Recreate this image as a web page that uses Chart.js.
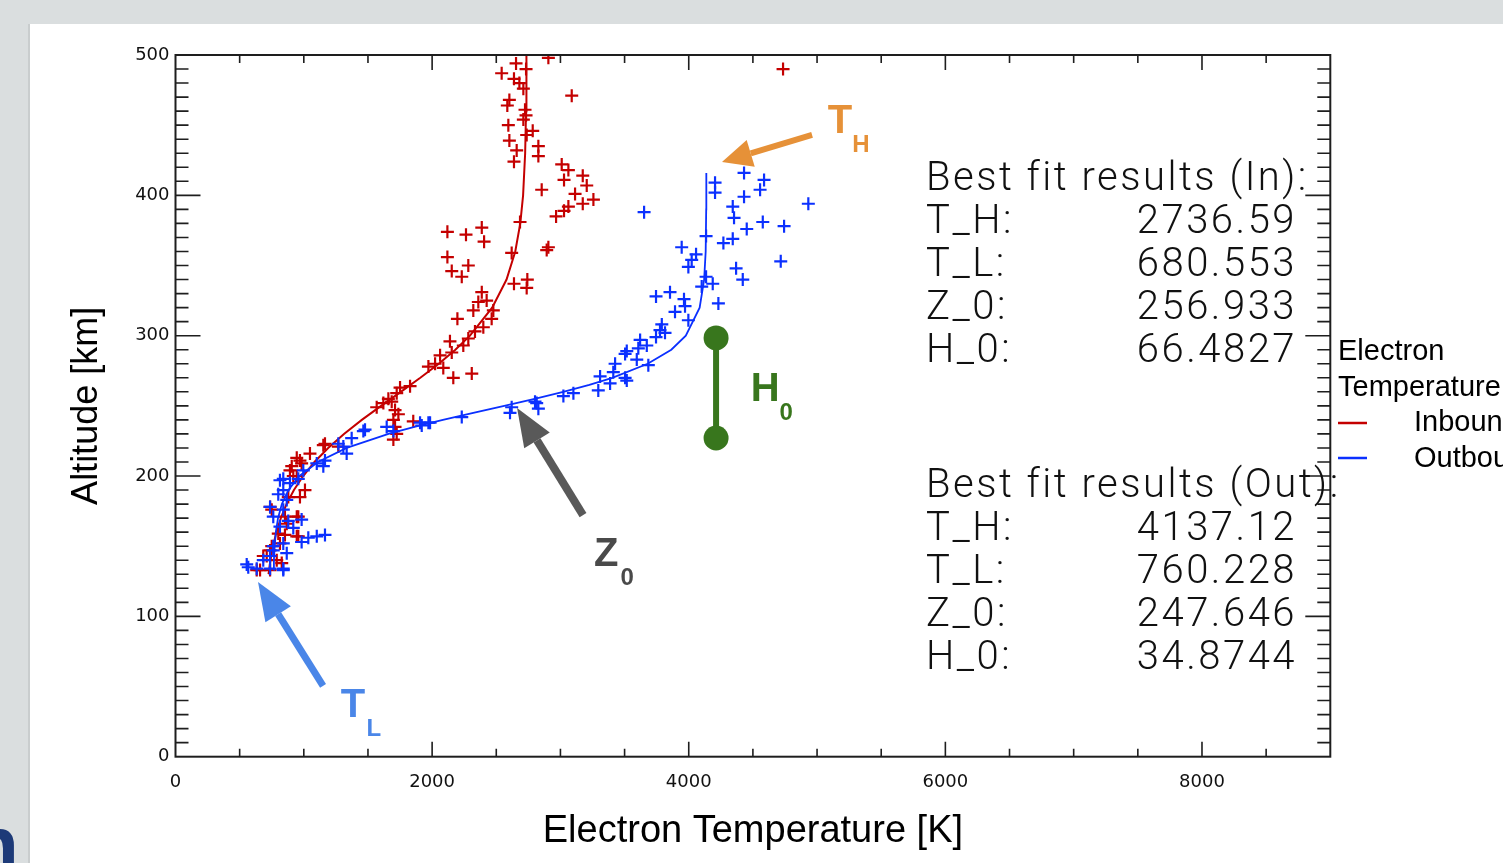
<!DOCTYPE html>
<html>
<head>
<meta charset="utf-8">
<script src="https://cdn.jsdelivr.net/npm/chart.js@4.4.1/dist/chart.umd.min.js"></script>
<style>
  html, body { margin: 0; padding: 0; background: #dadedf; overflow: hidden; }
  canvas { display: block; }
</style>
</head>
<body>
<canvas id="profile" width="1503" height="863"></canvas>
<script>
// inbound pass (red crosses): electron temperature [K] and altitude [km]
const inboundTemp = [
  2906, 2654, 2732, 2542, 2638, 2680, 2711, 3088, 2602, 2586, 2724, 2732, 2711, 2594, 2784, 2737, 2602,
  2828, 2659, 2828, 2638, 3010, 3062, 3174, 3028, 3205, 2854, 3114, 3257, 3174, 3062, 3028, 2966, 2685,
  2387, 2119, 2264, 2405, 2906, 2893, 2620, 2119, 2282, 2153, 2231, 2742, 2638, 2737, 2387, 4735,
  2360, 2425, 2321, 2477, 2464, 2197, 2399, 2334, 2282, 2139, 2243, 2153, 2062, 2023, 1971, 2087, 2309,
  2165, 1828, 1750, 1724, 1659, 1685, 1620, 1568, 1711, 1737, 1698, 1853, 1711, 1724, 1698,
  1269, 1165, 1152, 1048, 970, 945, 983, 906, 892, 945, 918, 1009, 970, 879, 750, 737, 957, 853, 945,
  867, 801, 853, 945, 957, 814, 750, 737, 711, 684, 789, 828, 659, 737, 633
];
const inboundAlt = [
  498, 494, 490, 487, 483, 480, 476, 471, 468, 464, 461, 457, 454, 450, 446, 443, 439,
  435, 432, 428, 424, 422, 418, 414, 411, 407, 404, 401, 397, 394, 392, 389, 385, 381,
  377, 374, 372, 367, 363, 361, 359, 356, 350, 346, 342, 340, 337, 334, 331, 490,
  324, 325, 318, 318, 312, 312, 306, 303, 298, 296, 293, 288, 286, 280, 278, 277, 273,
  270, 264, 263, 259, 255, 253, 252, 249, 247, 244, 240, 239, 235, 230, 226,
  221, 223, 222, 216, 211, 213, 209, 207, 204, 200, 200, 190, 185, 185, 176, 178, 171, 171, 171,
  166, 159, 158, 157, 157, 152, 150, 147, 143, 143, 140, 138, 133, 133, 133
];

// outbound pass (blue crosses)
const outboundTemp = [
  3652, 4205, 4205, 4431, 4587, 4556, 4431, 4343, 4353, 4932, 4577, 4743, 4452, 4135, 4343, 4270,
  3945, 4057, 4023, 3997, 4717, 4369, 4421, 4135, 4187, 4101, 4231, 3745, 3854, 3963, 3971, 3893,
  3997, 3790, 3776, 3815, 3745, 3621, 3673, 3607, 3517, 3504, 3595, 3685, 3426, 3412, 3309, 3504,
  3517, 3387, 3295, 3101, 3023, 2802, 2815, 2620, 2828, 2607, 2231, 1984, 1906, 1971, 1919, 1646,
  1698, 1477, 1464, 1373, 1269, 1308, 1334, 1165, 1101, 1152, 996, 957, 840, 814, 892, 840, 801,
  867, 737, 840, 762, 983, 879, 814, 918, 1165, 1101, 1035, 983, 840, 762, 762, 867, 737, 684,
  555, 567, 633, 737, 840, 840
];
const outboundAlt = [
  388, 409, 402, 416, 411, 404, 399, 392, 384, 394, 381, 378, 376, 371, 369, 366,
  363, 358, 354, 349, 353, 348, 340, 342, 337, 335, 323, 328, 331, 326, 321, 317,
  311, 308, 304, 302, 299, 297, 293, 291, 289, 287, 283, 279, 280, 274, 271, 270,
  268, 266, 261, 259, 257, 253, 252, 249, 248, 245, 242, 238, 238, 238, 236, 235,
  232, 233, 232, 227, 223, 221, 216, 211, 209, 207, 204, 198, 198, 197, 195, 190, 187,
  183, 178, 176, 171, 169, 168, 164, 163, 158, 157, 156, 153, 152, 150, 147, 145, 143, 140,
  137, 135, 134, 134, 134, 133
];

// fitted profiles
const inboundFitAlt  = [130, 140, 150, 160, 170, 180, 190, 200, 210, 220, 230, 240, 250, 260, 270, 280, 290, 300, 320, 340, 360, 380, 400, 430, 460, 500];
const inboundFitTemp = [725, 740, 760, 786, 821, 865, 923, 995, 1083, 1190, 1313, 1452, 1602, 1756, 1908, 2052, 2181, 2295, 2468, 2580, 2648, 2687, 2709, 2725, 2732, 2735];
const outboundFitAlt  = [133, 140, 150, 160, 170, 180, 190, 200, 210, 220, 230, 235, 240, 245, 250, 255, 260, 265, 270, 280, 290, 300, 320, 340, 360, 390, 416];
const outboundFitTemp = [765, 767, 773, 782, 799, 829, 880, 966, 1110, 1334, 1660, 1862, 2084, 2321, 2562, 2799, 3022, 3225, 3404, 3680, 3864, 3977, 4085, 4120, 4132, 4136, 4137];

// axis labels
const tempTicks = [0, 2000, 4000, 6000, 8000];
const altTicks = [0, 100, 200, 300, 400, 500];

// printed fit results
const fitNames = ['T_H:', 'T_L:', 'Z_0:', 'H_0:'];
const inboundFitText = ['2736.59', '680.553', '256.933', '66.4827'];
const outboundFitText = ['4137.12', '760.228', '247.646', '34.8744'];

const RED = '#c40000';
const BLUE = '#0b30ff';

const toPts = (xs, ys) => xs.map((v, i) => ({ x: v, y: ys[i] }));

const pageBg = {
  id: 'pageBg',
  beforeDraw(chart) {
    const { ctx, width, height } = chart;
    ctx.save();
    ctx.fillStyle = '#dadedf';
    ctx.fillRect(0, 0, width, height);
    ctx.fillStyle = '#c9cdce';
    ctx.fillRect(28, 24, 2, height);
    ctx.fillStyle = '#ffffff';
    ctx.fillRect(30, 24, width - 30, height - 24);
    // cut off slide title in the corner
    ctx.fillStyle = '#1d3a78';
    ctx.font = 'bold 80px "Liberation Sans"';
    ctx.textBaseline = 'alphabetic';
    ctx.fillText('n', -30, 872);
    ctx.restore();
  }
};

// IDL style box with inward ticks on all four sides
const frame = {
  id: 'frame',
  afterDatasetsDraw(chart) {
    const { ctx, chartArea: a, scales: { x, y } } = chart;
    ctx.save();
    ctx.strokeStyle = '#1e1e1e';
    ctx.lineWidth = 2;
    ctx.strokeRect(a.left, a.top, a.right - a.left, a.bottom - a.top);
    ctx.lineWidth = 1.6;
    ctx.beginPath();
    for (let v = 500; v < 9000; v += 500) {
      const px = x.getPixelForValue(v);
      const len = v % 2000 === 0 ? 15 : 8;
      ctx.moveTo(px, a.bottom); ctx.lineTo(px, a.bottom - len);
      ctx.moveTo(px, a.top); ctx.lineTo(px, a.top + len);
    }
    for (let v = 10; v < 500; v += 10) {
      const py = y.getPixelForValue(v);
      const len = v % 100 === 0 ? 25 : 13;
      ctx.moveTo(a.left, py); ctx.lineTo(a.left + len, py);
      ctx.moveTo(a.right, py); ctx.lineTo(a.right - len, py);
    }
    ctx.stroke();
    ctx.restore();
  }
};

function arrow(ctx, [x1, y1], [x2, y2], color, w, hl, hw) {
  const a = Math.atan2(y2 - y1, x2 - x1);
  const bx = x2 - hl * Math.cos(a), by = y2 - hl * Math.sin(a);
  ctx.strokeStyle = color;
  ctx.lineWidth = w;
  ctx.beginPath(); ctx.moveTo(x1, y1); ctx.lineTo(bx, by); ctx.stroke();
  ctx.fillStyle = color;
  ctx.beginPath();
  ctx.moveTo(x2, y2);
  ctx.lineTo(bx + hw / 2 * Math.sin(a), by - hw / 2 * Math.cos(a));
  ctx.lineTo(bx - hw / 2 * Math.sin(a), by + hw / 2 * Math.cos(a));
  ctx.closePath();
  ctx.fill();
}

function symbol(ctx, [px, py], main, sub, color) {
  ctx.fillStyle = color;
  ctx.textAlign = 'center';
  ctx.textBaseline = 'middle';
  ctx.font = 'bold 40px "Liberation Sans"';
  ctx.fillText(main, px, py);
  ctx.font = 'bold 24px "Liberation Sans"';
  ctx.fillText(sub, px + 21, py + 23);
}

const notes = {
  id: 'notes',
  afterDraw(chart) {
    const { ctx, scales: { x, y } } = chart;
    const P = (t, z) => [x.getPixelForValue(t), y.getPixelForValue(z)];
    ctx.save();

    arrow(ctx, P(4961, 443), P(4259, 423.7), '#e69138', 6, 30, 28);
    symbol(ctx, P(5179, 452.3), 'T', 'H', '#e69138');

    arrow(ctx, P(3176, 172.2), P(2662, 248.4), '#595959', 8, 38, 30);
    symbol(ctx, P(3356, 143.7), 'Z', '0', '#4a4a4a');

    arrow(ctx, P(1150, 50.4), P(643, 124.5), '#4a86e8', 7, 38, 30);
    symbol(ctx, P(1383, 36.1), 'T', 'L', '#4a86e8');

    const [hx, hTop] = P(4213, 298.4);
    const [, hBot] = P(4213, 227.1);
    ctx.strokeStyle = '#38761d';
    ctx.fillStyle = '#38761d';
    ctx.lineWidth = 6;
    ctx.beginPath(); ctx.moveTo(hx, hTop); ctx.lineTo(hx, hBot); ctx.stroke();
    ctx.beginPath(); ctx.arc(hx, hTop, 12.5, 0, Math.PI * 2); ctx.fill();
    ctx.beginPath(); ctx.arc(hx, hBot, 12.5, 0, Math.PI * 2); ctx.fill();
    symbol(ctx, P(4595, 261.3), 'H', '0', '#38761d');

    // fit result blocks
    ctx.fillStyle = '#111';
    ctx.textBaseline = 'alphabetic';
    ctx.font = '300 40px Roboto';
    ctx.letterSpacing = '2.5px';
    const block = (title, vals, top) => {
      ctx.textAlign = 'left';
      ctx.fillText(title, 926, top);
      fitNames.forEach((n, i) => {
        ctx.textAlign = 'left';
        ctx.fillText(n, 926, top + 43 * (i + 1));
        ctx.textAlign = 'right';
        ctx.fillText(vals[i], 1297, top + 43 * (i + 1));
      });
    };
    block('Best fit results (In):', inboundFitText, 190);
    block('Best fit results (Out):', outboundFitText, 497);
    ctx.letterSpacing = '0px';

    // legend
    ctx.textAlign = 'left';
    ctx.font = '29px "Liberation Sans"';
    ctx.fillStyle = '#000';
    ctx.fillText('Electron', 1338, 360);
    ctx.fillText('Temperature', 1338, 396);
    const sets = chart.data.datasets.filter(d => d.showLine);
    [[sets[0], 423, 431], [sets[1], 458, 467]].forEach(([d, ly, ty]) => {
      ctx.strokeStyle = d.borderColor;
      ctx.lineWidth = 2.5;
      ctx.beginPath(); ctx.moveTo(1338, ly); ctx.lineTo(1367, ly); ctx.stroke();
      ctx.fillStyle = '#000';
      ctx.fillText(d.label, 1414, ty);
    });
    ctx.restore();
  }
};

const tickFont = { family: '"DejaVu Sans"', size: 18 };

new Chart(document.getElementById('profile'), {
  type: 'scatter',
  data: {
    datasets: [
      {
        label: 'Outbound',
        data: toPts(outboundTemp, outboundAlt),
        pointStyle: 'cross', pointRadius: 6.5, pointBorderWidth: 2.2,
        borderColor: BLUE, backgroundColor: BLUE, order: 0
      },
      {
        label: 'Inbound',
        data: toPts(inboundTemp, inboundAlt),
        pointStyle: 'cross', pointRadius: 6.5, pointBorderWidth: 2.2,
        borderColor: RED, backgroundColor: RED, order: 2
      },
      {
        label: 'Inbound',
        data: toPts(inboundFitTemp, inboundFitAlt),
        showLine: true, pointRadius: 0, borderWidth: 2,
        borderColor: RED, order: 3
      },
      {
        label: 'Outbound',
        data: toPts(outboundFitTemp, outboundFitAlt),
        showLine: true, pointRadius: 0, borderWidth: 1.8,
        borderColor: BLUE, order: 1
      }
    ]
  },
  options: {
    responsive: false,
    animation: false,
    events: [],
    layout: { padding: { left: 50, top: 55, right: 172.7, bottom: 0 } },
    plugins: { legend: { display: false }, tooltip: { enabled: false } },
    scales: {
      x: {
        type: 'linear', min: 0, max: 9000,
        grid: { display: false, drawTicks: false },
        border: { display: false },
        ticks: { padding: 15, color: '#111', font: tickFont, maxRotation: 0, autoSkip: false,
                 callback: v => String(v) },
        afterBuildTicks: s => { s.ticks = tempTicks.map(v => ({ value: v })); },
        afterFit: s => { s.height = 106.3; },
        title: {
          display: true, text: 'Electron Temperature [K]', color: '#000',
          font: { family: '"Liberation Sans"', size: 38 }, padding: { top: 0, bottom: 9 }
        }
      },
      y: {
        type: 'linear', min: 0, max: 500,
        grid: { display: false, drawTicks: false },
        border: { display: false },
        ticks: { padding: 6, color: '#111', font: tickFont, autoSkip: false },
        afterBuildTicks: s => { s.ticks = altTicks.map(v => ({ value: v })); },
        afterFit: s => { s.width = 125.5; },
        title: {
          display: true, text: 'Altitude [km]', color: '#000',
          font: { family: '"Liberation Sans"', size: 36 }, padding: { top: 15, bottom: 0 }
        }
      }
    }
  },
  plugins: [pageBg, frame, notes]
});
</script>
</body>
</html>
